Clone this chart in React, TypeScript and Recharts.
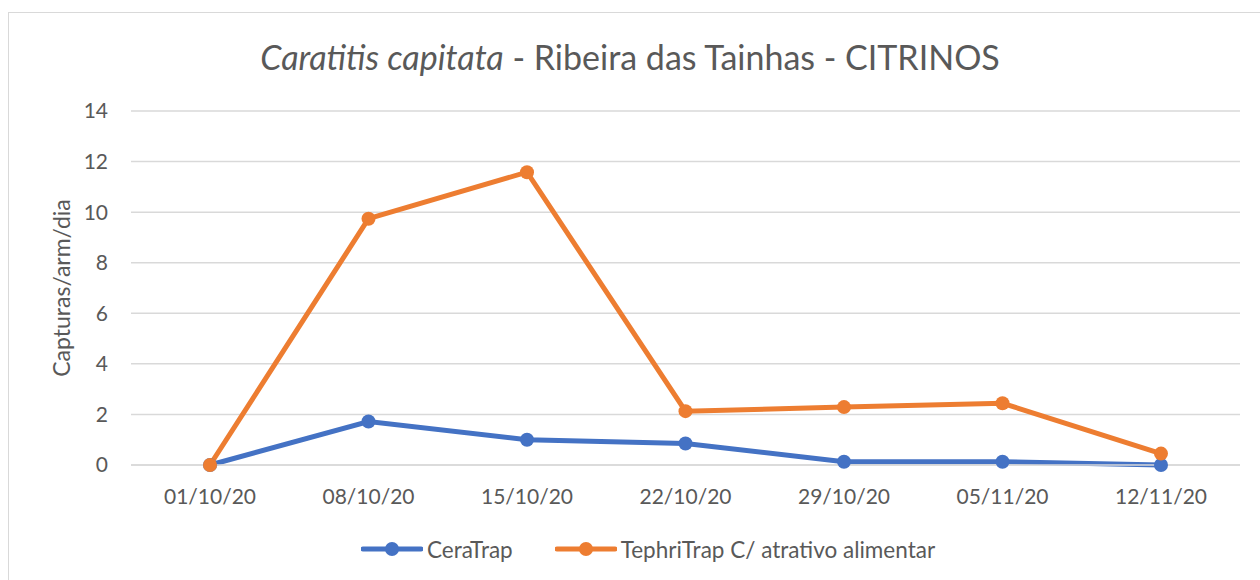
import React from 'react';
import { LineChart, Line, XAxis, YAxis, CartesianGrid } from 'recharts';

const categories = ['01/10/20', '08/10/20', '15/10/20', '22/10/20', '29/10/20', '05/11/20', '12/11/20'];
const ceraTrap = [0, 1.72, 1.0, 0.85, 0.13, 0.13, 0];
const tephriTrap = [0, 9.74, 11.58, 2.13, 2.29, 2.44, 0.45];
const yTicks = [0, 2, 4, 6, 8, 10, 12, 14];

const seriesNames = ['CeraTrap', 'TephriTrap C/ atrativo alimentar'];
const BLUE = '#4472C4';
const ORANGE = '#ED7D31';
const TEXT = '#595959';
const FONT = 'Lato, "Open Sans", sans-serif';

const data = categories.map((c, i) => ({ date: c, cera: ceraTrap[i], tephri: tephriTrap[i] }));

const LegendBox = () => {
  const items = [
    { name: seriesNames[0], color: BLUE },
    { name: seriesNames[1], color: ORANGE },
  ];
  return (
    <div style={{ position: 'absolute', left: 0, top: 535, width: 1260, height: 28, display: 'flex', justifyContent: 'flex-start', paddingLeft: 361, boxSizing: 'border-box', alignItems: 'center', fontFamily: FONT, fontSize: 22.5, color: TEXT }}>
      {items.map((it, i) => (
        <div key={i} style={{ display: 'flex', alignItems: 'center', marginRight: i === 0 ? 42 : 0 }}>
          <svg width={62} height={20} style={{ marginRight: 4 }}>
            <line x1={2} y1={10} x2={60} y2={10} stroke={it.color} strokeWidth={5} strokeLinecap="round" />
            <circle cx={31} cy={10} r={7} fill={it.color} />
          </svg>
          <span>{it.name}</span>
        </div>
      ))}
    </div>
  );
};

export default function App() {
  return (
    <div style={{ position: 'fixed', left: 0, top: 0, width: 1260, height: 580, overflow: 'hidden', background: '#fff' }}>
      <div style={{ position: 'absolute', left: 8, top: 12, width: 1270, height: 600, border: '1px solid #D9D9D9', boxSizing: 'border-box' }} />
      <div style={{ position: 'absolute', left: 0, top: 36, width: 1260, textAlign: 'center', fontFamily: FONT, fontSize: 34, color: TEXT, lineHeight: '42px' }}>
        <i>Caratitis capitata</i> - Ribeira das Tainhas - CITRINOS
      </div>
      <div style={{ position: 'absolute', left: 0, top: 0 }}>
        <LineChart width={1260} height={580} data={data} margin={{ top: 111, right: 20, left: 0, bottom: 85 }}>
          <CartesianGrid vertical={false} stroke="#D9D9D9" strokeWidth={1.5} />
          <XAxis
            dataKey="date"
            tickLine={false}
            axisLine={{ stroke: '#D9D9D9', strokeWidth: 1.5 }}
            tick={{ fill: TEXT, fontSize: 21, fontFamily: FONT }}
            tickMargin={18}
            height={30}
            interval={0}
            padding={{ left: 79, right: 79 }}
          />
          <YAxis
            domain={[0, 14]}
            ticks={yTicks}
            width={131}
            tickLine={false}
            axisLine={false}
            tick={{ fill: TEXT, fontSize: 21, fontFamily: FONT }}
            tickMargin={17}
            label={{
              value: 'Capturas/arm/dia',
              angle: -90,
              position: 'insideLeft',
              dx: 57,
              style: { textAnchor: 'middle', fill: TEXT, fontSize: 23, fontFamily: FONT },
            }}
          />
          <Line
            type="linear"
            dataKey="cera"
            name={seriesNames[0]}
            stroke={BLUE}
            strokeWidth={5}
            dot={{ r: 7, fill: BLUE, stroke: BLUE, strokeWidth: 0 }}
            isAnimationActive={false}
          />
          <Line
            type="linear"
            dataKey="tephri"
            name={seriesNames[1]}
            stroke={ORANGE}
            strokeWidth={5}
            dot={{ r: 7, fill: ORANGE, stroke: ORANGE, strokeWidth: 0 }}
            isAnimationActive={false}
          />
        </LineChart>
      </div>
      <LegendBox />
    </div>
  );
}
